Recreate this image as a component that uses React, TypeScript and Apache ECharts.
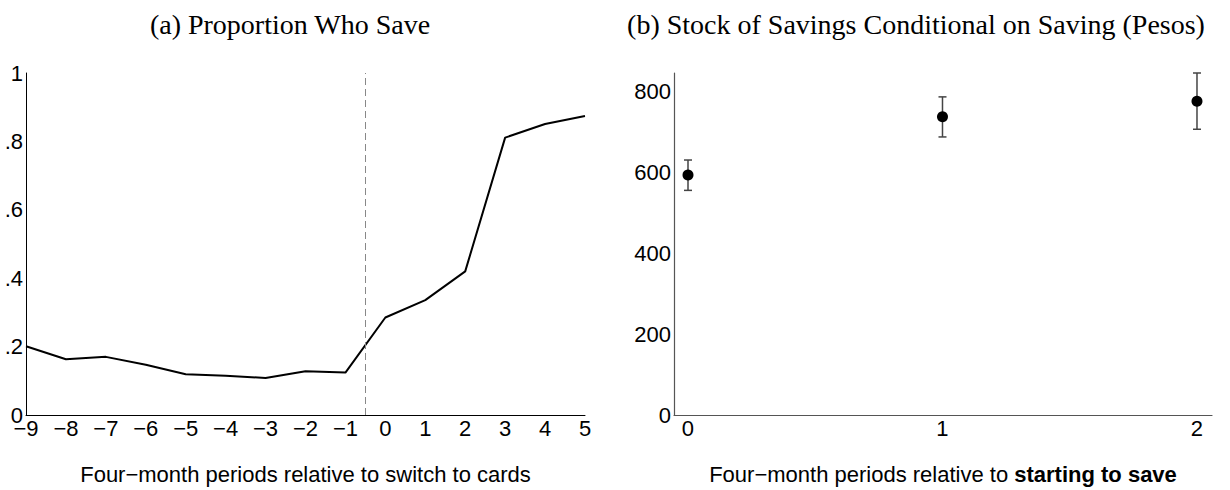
import React, { useEffect, useRef } from "react";
import * as echarts from "echarts";

const periodsA = [-9, -8, -7, -6, -5, -4, -3, -2, -1, 0, 1, 2, 3, 4, 5];
const proportionSave = [0.201, 0.163, 0.17, 0.147, 0.119, 0.115, 0.108, 0.128, 0.124, 0.285, 0.336, 0.42, 0.811, 0.851, 0.874];
const switchLine = -0.5;

const periodsB = [0, 1, 2];
const stockMean = [593, 737, 775];
const stockLow = [555, 687, 706];
const stockHigh = [630, 786, 845];

const titleA = "(a) Proportion Who Save";
const titleB = "(b) Stock of Savings Conditional on Saving (Pesos)";
const nameA = "Four\u2212month periods relative to switch to cards";
const nameB = "Four\u2212month periods relative to {b|starting to save}";

const minusFmt = (v: number) => (v < 0 ? "\u2212" + Math.abs(v) : String(v));

export default function App() {
  const ref = useRef<HTMLDivElement>(null);
  useEffect(() => {
    document.body.style.margin = "0";
    const chart = echarts.init(ref.current!, undefined, { renderer: "svg" });
    const sans = "Liberation Sans, Arial, sans-serif";
    const serif = "Liberation Serif, Times New Roman, serif";
    const fs = 22;
    const lineA = { show: true, onZero: false, lineStyle: { color: "#000", width: 1 } };
    const lineB = { show: true, onZero: false, lineStyle: { color: "#555", width: 1.2 } };
    chart.setOption({
      animation: false,
      backgroundColor: "#fff",
      graphic: [
        { type: "text", x: 290, y: 24, style: { text: titleA, font: `28px ${serif}`, fill: "#000", align: "center", verticalAlign: "middle" } },
        { type: "text", x: 916, y: 24, style: { text: titleB, font: `28px ${serif}`, fill: "#000", align: "center", verticalAlign: "middle" } },
      ],
      grid: [
        { left: 26, top: 73, width: 559, height: 355 },
        { left: 674, top: 73, width: 538, height: 355 },
      ],
      xAxis: [
        {
          gridIndex: 0, type: "value", min: -9, max: 5, interval: 1,
          axisLine: lineA, axisTick: { show: false }, splitLine: { show: false },
          axisLabel: { formatter: minusFmt, color: "#000", fontSize: fs, fontFamily: sans, margin: 2 },
          name: nameA, nameLocation: "middle", nameGap: 48,
          nameTextStyle: { color: "#000", fontSize: fs, fontFamily: sans },
        },
        {
          gridIndex: 1, type: "value", min: -0.055, max: 2.059,
          axisLine: lineB, axisTick: { show: false }, splitLine: { show: false },
          axisLabel: { customValues: periodsB, color: "#000", fontSize: fs, fontFamily: sans, margin: 2 },
          name: nameB, nameLocation: "middle", nameGap: 48,
          nameTextStyle: {
            color: "#000", fontSize: fs, fontFamily: sans,
            rich: { b: { fontWeight: "bold", fontSize: fs, fontFamily: sans, color: "#000" } },
          },
        },
      ],
      yAxis: [
        {
          gridIndex: 0, type: "value", min: 0, max: 1, interval: 0.2,
          axisLine: lineA, axisTick: { show: false }, splitLine: { show: false },
          axisLabel: {
            formatter: (v: number) => (v === 0 ? "0" : v >= 1 ? "1" : "." + Math.round(v * 10)),
            color: "#000", fontSize: fs, fontFamily: sans, margin: 3,
          },
        },
        {
          gridIndex: 1, type: "value", min: 0, max: 845, interval: 200,
          axisLine: lineB, axisTick: { show: false }, splitLine: { show: false },
          axisLabel: {
            formatter: (v: number) => (v % 200 === 0 ? String(v) : ""),
            color: "#000", fontSize: fs, fontFamily: sans, margin: 3,
          },
        },
      ],
      series: [
        {
          type: "line", xAxisIndex: 0, yAxisIndex: 0,
          data: periodsA.map((p, i) => [p, proportionSave[i]]),
          showSymbol: false, symbol: "none",
          lineStyle: { color: "#000", width: 2 },
          markLine: {
            silent: true, symbol: "none", label: { show: false },
            lineStyle: { color: "#888", type: [7, 4], width: 1 },
            data: [{ xAxis: switchLine }],
          },
        },
        {
          type: "custom", xAxisIndex: 1, yAxisIndex: 1,
          data: periodsB.map((p, i) => [p, stockLow[i], stockHigh[i]]),
          renderItem: (params: any, api: any) => {
            const x = api.value(0);
            const lo = api.coord([x, api.value(1)]);
            const hi = api.coord([x, api.value(2)]);
            const w = 4;
            const style = { stroke: "#444", lineWidth: 1.5 };
            return {
              type: "group",
              children: [
                { type: "line", shape: { x1: lo[0], y1: lo[1], x2: hi[0], y2: hi[1] }, style },
                { type: "line", shape: { x1: lo[0] - w, y1: lo[1], x2: lo[0] + w, y2: lo[1] }, style },
                { type: "line", shape: { x1: hi[0] - w, y1: hi[1], x2: hi[0] + w, y2: hi[1] }, style },
              ],
            };
          },
          z: 2,
        },
        {
          type: "scatter", xAxisIndex: 1, yAxisIndex: 1,
          data: periodsB.map((p, i) => [p, stockMean[i]]),
          symbol: "circle", symbolSize: 11,
          itemStyle: { color: "#000", opacity: 1 },
          z: 3,
        },
      ],
    });
    return () => chart.dispose();
  }, []);
  return <div ref={ref} style={{ width: 1230, height: 490 }} />;
}
